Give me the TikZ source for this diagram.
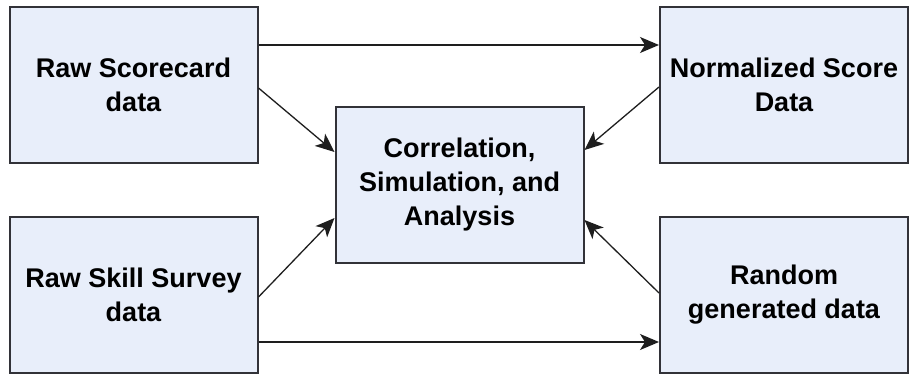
\documentclass[tikz,border=0pt]{standalone}
\usepackage{fontspec}
\setmainfont{Liberation Sans}
\usetikzlibrary{arrows.meta}

\definecolor{boxfill}{RGB}{232,238,250}
\definecolor{boxline}{RGB}{50,50,56}
\definecolor{flowline}{RGB}{30,30,30}

\tikzset{
  databox/.style={draw=boxline,line width=2pt,fill=boxfill,
    minimum width=248pt,minimum height=156pt,align=center,
    font=\fontsize{27}{34}\selectfont\bfseries},
  flow/.style={draw=flowline,line width=1.3pt,
    -{Stealth[length=19pt,width=16pt,inset=5pt]}}
}

\begin{document}
\begin{tikzpicture}[x=1pt,y=1pt]
  % Page frame
  \useasboundingbox (0,0) rectangle (909,375);
  % Input and output boxes
  \node[databox] (scorecard) at (133.5,290) {Raw Scorecard\\data};
  \node[databox] (survey)    at (133.5,80)  {Raw Skill Survey\\data};
  \node[databox] (normal)    at (784,290)   {Normalized Score\\Data};
  \node[databox] (random)    at (784,80)    {Random\\generated data};
  % Central analysis box
  \node[databox] (analysis)  at (459.5,190) {Correlation,\\Simulation, and\\Analysis};
  % Straight links across the top and bottom
  \draw[flow] ([yshift=40pt]scorecard.east) -- ([yshift=40pt]normal.west);
  \draw[flow] ([yshift=-47pt]survey.east) -- ([yshift=-47pt]random.west);
  % Diagonal links into the analysis box
  \draw[flow] ([yshift=-3pt]scorecard.east) -- ([yshift=33pt]analysis.west);
  \draw[flow] ([yshift=-2pt]survey.east) -- ([yshift=-33pt]analysis.west);
  \draw[flow] ([yshift=-2pt]normal.west) -- ([yshift=35pt]analysis.east);
  \draw[flow] ([yshift=2pt]random.west) -- ([yshift=-35pt]analysis.east);
\end{tikzpicture}
\end{document}
